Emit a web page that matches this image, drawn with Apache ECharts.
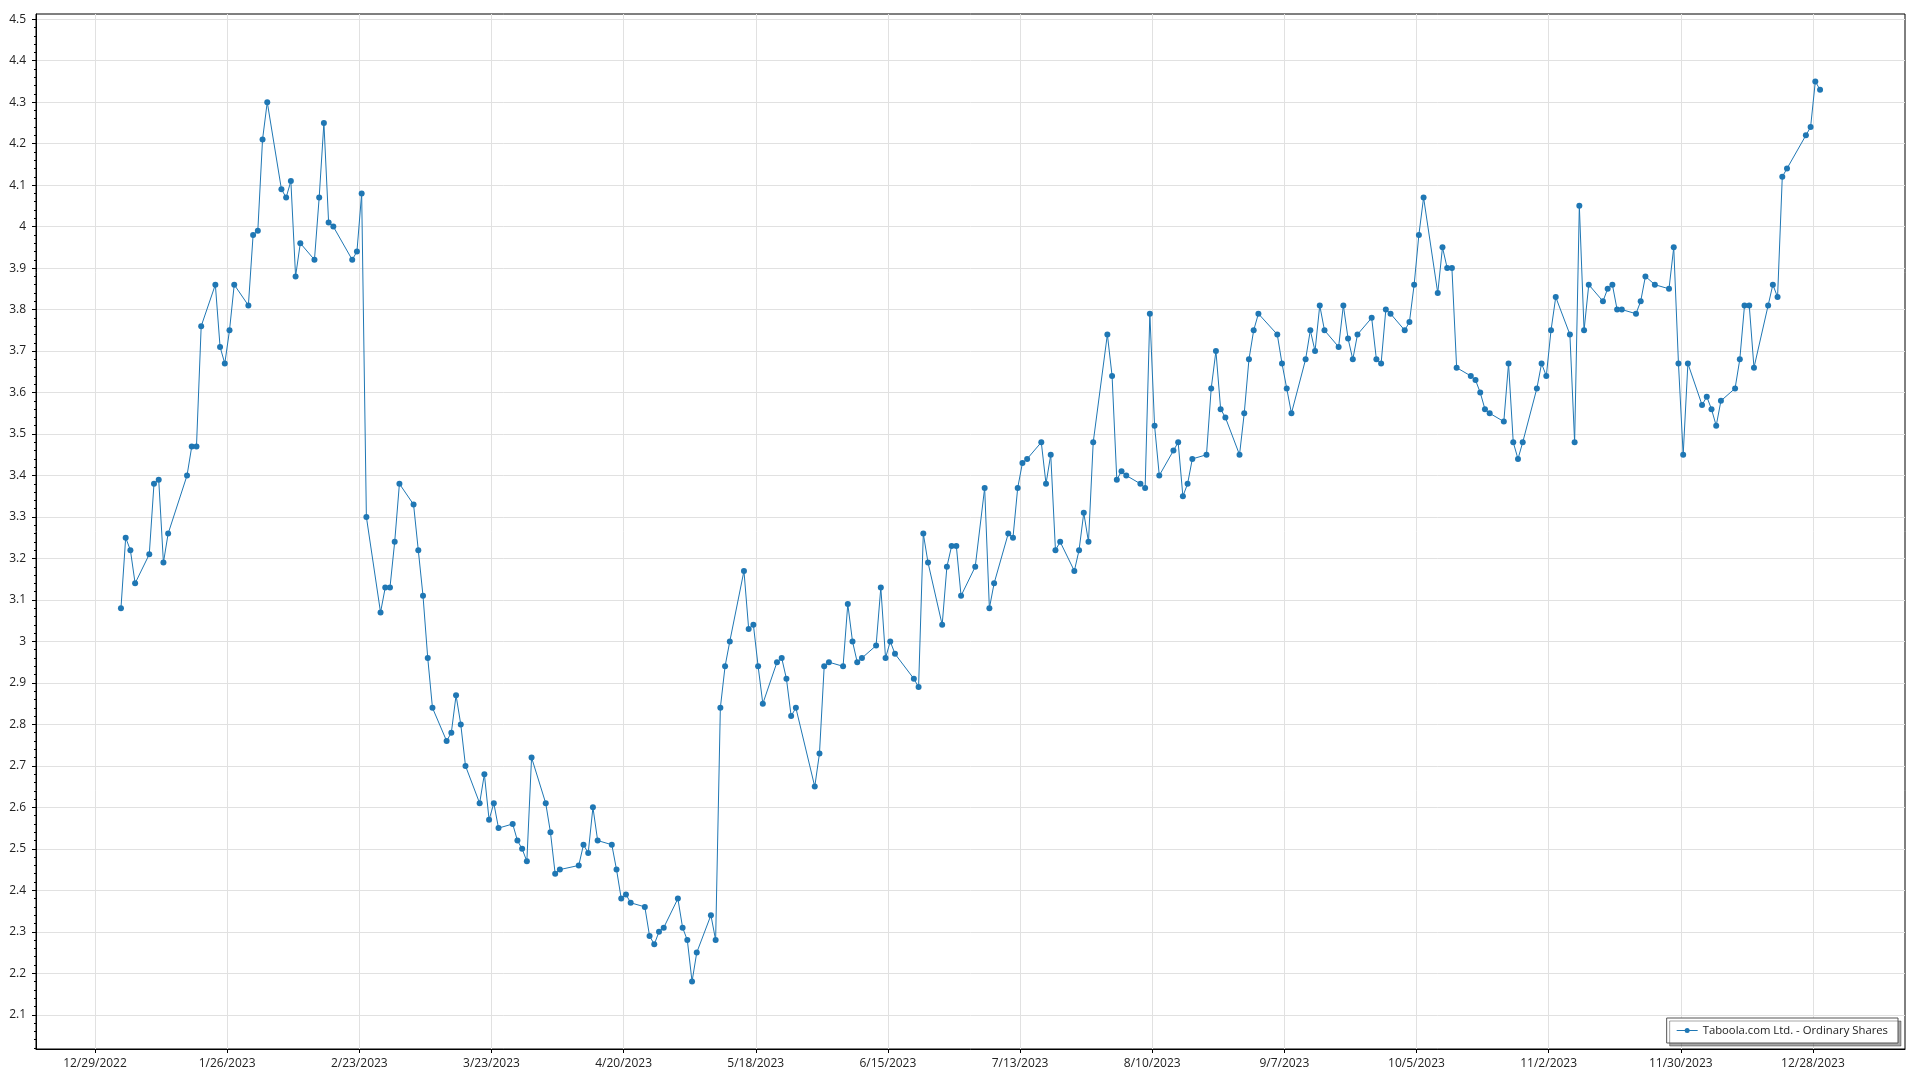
<!DOCTYPE html>
<html>
<head>
<meta charset="utf-8">
<script src="https://cdn.jsdelivr.net/npm/echarts@6/dist/echarts.min.js"></script>
<style>
html,body{margin:0;padding:0;background:#fff;}
#chart{width:1920px;height:1080px;}
</style>
</head>
<body>
<div id="chart"></div>
<script>
// Trading days (day of month) and closing prices, 2023
const janDays = [3,4,5,6,9,10,11,12,13,17,18,19,20,23,24,25,26,27,30,31];
const janClose = [3.08,3.25,3.22,3.14,3.21,3.38,3.39,3.19,3.26,3.40,3.47,3.47,3.76,3.86,3.71,3.67,3.75,3.86,3.81,3.98];
const febDays = [1,2,3,6,7,8,9,10,13,14,15,16,17,21,22,23,24,27,28];
const febClose = [3.99,4.21,4.30,4.09,4.07,4.11,3.88,3.96,3.92,4.07,4.25,4.01,4.00,3.92,3.94,4.08,3.30,3.07,3.13];
const marDays = [1,2,3,6,7,8,9,10,13,14,15,16,17,20,21,22,23,24,27,28,29,30,31];
const marClose = [3.13,3.24,3.38,3.33,3.22,3.11,2.96,2.84,2.76,2.78,2.87,2.80,2.70,2.61,2.68,2.57,2.61,2.55,2.56,2.52,2.50,2.47,2.72];
const aprDays = [3,4,5,6,10,11,12,13,14,17,18,19,20,21,24,25,26,27,28];
const aprClose = [2.61,2.54,2.44,2.45,2.46,2.51,2.49,2.60,2.52,2.51,2.45,2.38,2.39,2.37,2.36,2.29,2.27,2.30,2.31];
const mayDays = [1,2,3,4,5,8,9,10,11,12,15,16,17,18,19,22,23,24,25,26,30,31];
const mayClose = [2.38,2.31,2.28,2.18,2.25,2.34,2.28,2.84,2.94,3.00,3.17,3.03,3.04,2.94,2.85,2.95,2.96,2.91,2.82,2.84,2.65,2.73];
const junDays = [1,2,5,6,7,8,9,12,13,14,15,16,20,21,22,23,26,27,28,29,30];
const junClose = [2.94,2.95,2.94,3.09,3.00,2.95,2.96,2.99,3.13,2.96,3.00,2.97,2.91,2.89,3.26,3.19,3.04,3.18,3.23,3.23,3.11];
const julDays = [3,5,6,7,10,11,12,13,14,17,18,19,20,21,24,25,26,27,28,31];
const julClose = [3.18,3.37,3.08,3.14,3.26,3.25,3.37,3.43,3.44,3.48,3.38,3.45,3.22,3.24,3.17,3.22,3.31,3.24,3.48,3.74];
const augDays = [1,2,3,4,7,8,9,10,11,14,15,16,17,18,21,22,23,24,25,28,29,30,31];
const augClose = [3.64,3.39,3.41,3.40,3.38,3.37,3.79,3.52,3.40,3.46,3.48,3.35,3.38,3.44,3.45,3.61,3.70,3.56,3.54,3.45,3.55,3.68,3.75];
const sepDays = [1,5,6,7,8,11,12,13,14,15,18,19,20,21,22,25,26,27,28,29];
const sepClose = [3.79,3.74,3.67,3.61,3.55,3.68,3.75,3.70,3.81,3.75,3.71,3.81,3.73,3.68,3.74,3.78,3.68,3.67,3.80,3.79];
const octDays = [2,3,4,5,6,9,10,11,12,13,16,17,18,19,20,23,24,25,26,27,30,31];
const octClose = [3.75,3.77,3.86,3.98,4.07,3.84,3.95,3.90,3.90,3.66,3.64,3.63,3.60,3.56,3.55,3.53,3.67,3.48,3.44,3.48,3.61,3.67];
const novDays = [1,2,3,6,7,8,9,10,13,14,15,16,17,20,21,22,24,27,28,29,30];
const novClose = [3.64,3.75,3.83,3.74,3.48,4.05,3.75,3.86,3.82,3.85,3.86,3.80,3.80,3.79,3.82,3.88,3.86,3.85,3.95,3.67,3.45];
const decDays = [1,4,5,6,7,8,11,12,13,14,15,18,19,20,21,22,26,27,28,29];
const decClose = [3.67,3.57,3.59,3.56,3.52,3.58,3.61,3.68,3.81,3.81,3.66,3.81,3.86,3.83,4.12,4.14,4.22,4.24,4.35,4.33];

const xTickDates = ['2022-12-29','2023-01-26','2023-02-23','2023-03-23','2023-04-20','2023-05-18','2023-06-15','2023-07-13','2023-08-10','2023-09-07','2023-10-05','2023-11-02','2023-11-30','2023-12-28'];
const yTickValues = [2.1,2.2,2.3,2.4,2.5,2.6,2.7,2.8,2.9,3.0,3.1,3.2,3.3,3.4,3.5,3.6,3.7,3.8,3.9,4.0,4.1,4.2,4.3,4.4,4.5];
const seriesName = 'Taboola.com Ltd. - Ordinary Shares';

// axis scale: days since 2022-12-29
const BASE = Date.UTC(2022, 11, 29);
const DAY = 86400000;
function toDayValue(y, m, d, h) { return (Date.UTC(y, m, d, h || 0) - BASE) / DAY; }

const monthDays = [janDays,febDays,marDays,aprDays,mayDays,junDays,julDays,augDays,sepDays,octDays,novDays,decDays];
const monthClose = [janClose,febClose,marClose,aprClose,mayClose,junClose,julClose,augClose,sepClose,octClose,novClose,decClose];
const seriesData = [];
monthDays.forEach(function (days, m) {
  days.forEach(function (d, i) {
    seriesData.push([toDayValue(2023, m, d, 12), monthClose[m][i]]);
  });
});

const xTickValues = xTickDates.map(function (s) {
  const p = s.split('-').map(Number);
  return toDayValue(p[0], p[1] - 1, p[2], 0);
});
const yMinorValues = [];
for (let k = 101; k <= 225; k++) { if (k % 5 !== 0) yMinorValues.push(+(k * 0.02).toFixed(2)); }

function fmtDate(v) {
  const dt = new Date(BASE + Math.round(v) * DAY);
  return (dt.getUTCMonth() + 1) + '/' + dt.getUTCDate() + '/' + dt.getUTCFullYear();
}

const FONT = 'Open Sans';
const LEGEND_ICON = 'path://M0,4.5H21V5.5H0Z M13,5A2.5,2.5 0 1,1 8,5A2.5,2.5 0 1,1 13,5Z';
const chart = echarts.init(document.getElementById('chart'), null, {renderer: 'canvas'});
chart.setOption({
  animation: false,
  backgroundColor: '#ffffff',
  textStyle: {fontFamily: FONT},
  grid: {
    left: 36, right: 15, top: 14, bottom: 31,
    containLabel: false, outerBoundsMode: 'none',
    show: true, borderColor: '#000', borderWidth: 1, backgroundColor: 'transparent'
  },
  legend: {
    show: true,
    data: [{name: seriesName, icon: LEGEND_ICON}],
    right: 22, bottom: 37,
    orient: 'horizontal',
    padding: [7, 10],
    itemWidth: 21, itemHeight: 10, itemGap: 5,
    backgroundColor: '#ffffff',
    borderColor: '#555555', borderWidth: 1, borderRadius: 0,
    shadowColor: 'rgba(0,0,0,0.35)', shadowBlur: 0, shadowOffsetX: 3, shadowOffsetY: 3,
    itemStyle: {color: '#1f77b4', borderWidth: 0},
    lineStyle: {width: 0},
    textStyle: {fontFamily: FONT, fontSize: 11.3, color: '#222', padding: [2, 0, 0, 0]}
  },
  xAxis: {
    type: 'value',
    min: -12.5, max: 383.5,
    axisLine: {show: true, onZero: false, lineStyle: {color: '#000', width: 1}},
    axisTick: {show: true, length: 4, inside: false, customValues: xTickValues, lineStyle: {color: '#000'}},
    axisLabel: {show: true, customValues: xTickValues, margin: 9, fontFamily: FONT, fontSize: 12, color: '#222', formatter: fmtDate},
    splitLine: {show: true, lineStyle: {color: '#e1e1e1', width: 1}}
  },
  yAxis: [{
    type: 'value',
    position: 'left',
    min: 2.0175, max: 4.5125,
    axisLine: {show: true, onZero: false, lineStyle: {color: '#000', width: 1}},
    axisTick: {show: true, length: 4, inside: false, customValues: yTickValues, lineStyle: {color: '#000'}},
    axisLabel: {show: true, customValues: yTickValues, margin: 10, fontFamily: FONT, fontSize: 12, color: '#222'},
    splitLine: {show: true, lineStyle: {color: '#e1e1e1', width: 1}}
  }, {
    type: 'value',
    position: 'left',
    offset: 0,
    min: 2.0175, max: 4.5125,
    axisLine: {show: false, onZero: false},
    axisTick: {show: true, length: 2, inside: false, customValues: yMinorValues, lineStyle: {color: '#000'}},
    axisLabel: {show: false},
    splitLine: {show: false}
  }],
  series: [{
    name: seriesName,
    type: 'line',
    yAxisIndex: 0,
    data: seriesData,
    symbol: 'circle',
    symbolSize: 6,
    showSymbol: true,
    showAllSymbol: true,
    color: '#1f77b4',
    itemStyle: {color: '#1f77b4'},
    lineStyle: {color: '#1f77b4', width: 1},
    emphasis: {disabled: true}
  }]
});
</script>
</body>
</html>
